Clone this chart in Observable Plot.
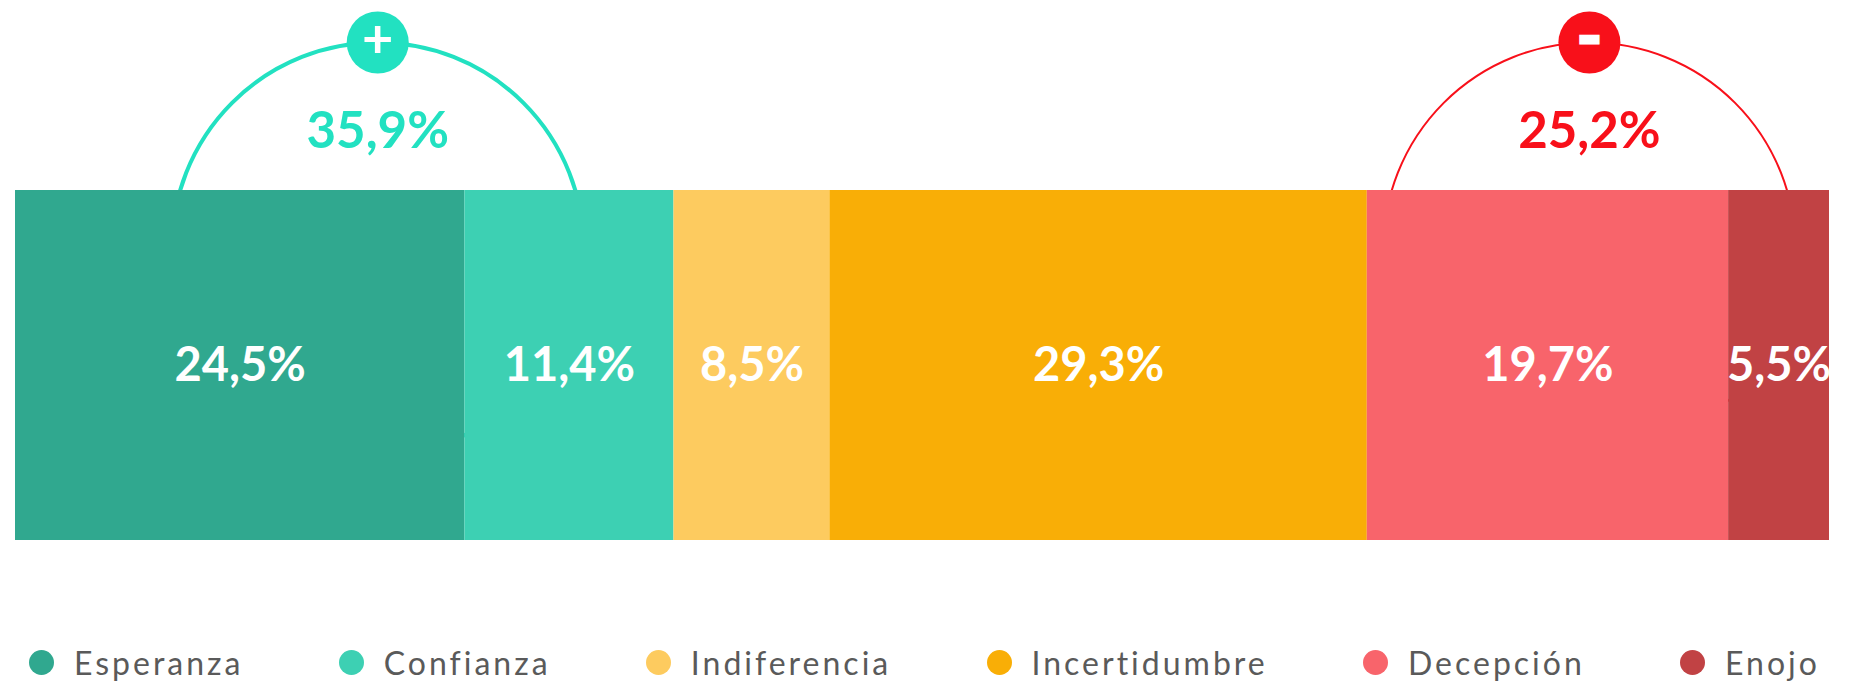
<!DOCTYPE html>
<html>
<head>
<meta charset="utf-8">
<script src="https://cdn.jsdelivr.net/npm/d3@7"></script>
<script src="https://cdn.jsdelivr.net/npm/@observablehq/plot@0.6"></script>
<style>
  html, body { margin: 0; padding: 0; background: #fff; }
  #legend {
    display: flex; justify-content: space-between; align-items: center;
    height: 44px; padding: 0 34px 0 29px;
    font-family: Lato, sans-serif; font-size: 32px; letter-spacing: 3px; color: #5a5a5a;
  }
  .item { display: flex; align-items: center; white-space: nowrap; }
  .sw { width: 25px; height: 25px; border-radius: 50%; margin-right: 20px; flex: none; }
</style>
</head>
<body>
<div id="chart"></div>
<div id="legend"></div>
<script>
// ---- data ----
const categories = ["Esperanza", "Confianza", "Indiferencia", "Incertidumbre", "Decepción", "Enojo"];
const values = [24.5, 11.4, 8.5, 29.3, 19.7, 5.5];
const colors = ["#30A88F", "#3DD0B3", "#FDCB5F", "#F9AE06", "#F8646B", "#C14244"];

const groupSigns = ["+", "−"];
const groupTotals = [35.9, 25.2];
const groupFirst = ["Esperanza", "Decepción"];
const groupLast = ["Confianza", "Enojo"];
const groupColors = ["#22E1C1", "#F8101A"];
const groupArcWidths = [4, 2];
const groupShift = [33, -9]; // pixel offset of each arc from its group's centre

// ---- build ----
const fmt = v => v.toFixed(1).replace(".", ",") + "%";
const data = categories.map((name, i) => ({name, value: values[i]}));
const cum = i => d3.sum(values.slice(0, i));
const groups = groupSigns.map((sign, i) => {
  const a = categories.indexOf(groupFirst[i]);
  const b = categories.indexOf(groupLast[i]);
  return {sign, total: groupTotals[i], mid: (cum(a) + cum(b + 1)) / 2, color: groupColors[i], sw: groupArcWidths[i], dx: groupShift[i]};
});

const arcMarks = groups.map(g =>
  Plot.dot([g], {x: "mid", r: 206, fill: "none", stroke: g.color, strokeWidth: g.sw, dx: g.dx, dy: -117})
);
const groupMarks = groups.flatMap(g => [
  Plot.text([g], {x: "mid", text: d => fmt(d.total), fill: g.color, fontSize: 51, fontWeight: 700, dx: g.dx, dy: -234}),
  Plot.dot([g], {x: "mid", r: 31, fill: g.color, stroke: "none", dx: g.dx, dy: -323}),
  g.sign === "+"
    ? Plot.text([g], {x: "mid", text: "sign", fill: "white", fontSize: 54, fontWeight: 700, dx: g.dx, dy: -325})
    : Plot.text([g], {x: "mid", text: "sign", fill: "white", stroke: "white", strokeWidth: 7, strokeLinejoin: "miter", fontSize: 30, fontWeight: 700, dx: g.dx, dy: -325})
]);

const chart = Plot.plot({
  width: 1854,
  height: 640,
  marginLeft: 15,
  marginRight: 25,
  marginTop: 190,
  marginBottom: 100,
  style: {fontFamily: "Lato, sans-serif", background: "white"},
  x: {domain: [0, d3.sum(values)], axis: null},
  color: {domain: categories, range: colors},
  marks: [
    ...arcMarks,
    Plot.barX(data, Plot.stackX({x: "value", fill: "name"})),
    Plot.text(data, Plot.stackX({x: "value", text: d => fmt(d.value), fill: "white", fontSize: 47, fontWeight: 700})),
    ...groupMarks
  ]
});
document.getElementById("chart").append(chart);

const legend = document.getElementById("legend");
categories.forEach((c, i) => {
  const it = document.createElement("div");
  it.className = "item";
  it.innerHTML = `<span class="sw" style="background:${colors[i]}"></span><span>${c}</span>`;
  legend.append(it);
});
</script>
</body>
</html>
